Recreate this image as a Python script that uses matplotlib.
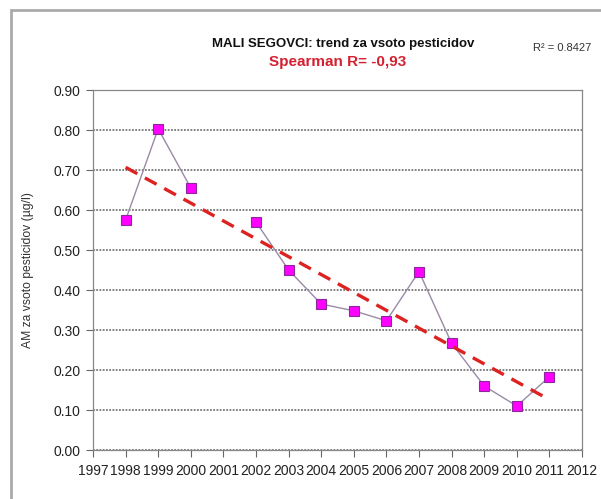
import numpy as np
import matplotlib
matplotlib.use("Agg")
import matplotlib.pyplot as plt
from matplotlib.patches import Rectangle

years = [1998, 1999, 2000, 2001, 2002, 2003, 2004, 2005, 2006, 2007, 2008, 2009, 2010, 2011]
values = [0.575, 0.803, 0.655, np.nan, 0.570, 0.450, 0.365, 0.348, 0.323, 0.446, 0.267, 0.160, 0.110, 0.183]
x_ticks = list(range(1997, 2013))
y_ticks = [0.0, 0.1, 0.2, 0.3, 0.4, 0.5, 0.6, 0.7, 0.8, 0.9]
title = "MALI SEGOVCI: trend za vsoto pesticidov"
subtitle = "Spearman R= -0,93"
r2_text = "R² = 0.8427"
ylabel = "AM za vsoto pesticidov (µg/l)"

plt.rcParams['font.family'] = ['Liberation Sans', 'DejaVu Sans']

fig = plt.figure(figsize=(6.01, 4.99), dpi=100)
W, H = 601, 499
ax = fig.add_axes([93 / W, 1 - 450 / H, (582 - 93) / W, (450 - 90) / H])

x = np.array(years, dtype=float)
y = np.array(values, dtype=float)
ax.plot(x, y, color='#9a8aa6', lw=1.0, zorder=3)
ax.plot(x, y, ls='none', marker='s', ms=7.5, mfc='#ff00ff', mec='#8a2a9a', mew=0.8, zorder=4)

m = ~np.isnan(y)
coef = np.polyfit(x[m], y[m], 1)
xt = np.array([years[0], years[-1]], dtype=float)
ax.plot(xt, np.polyval(coef, xt), color='#dd2222', lw=2.4, ls=(0, (4, 2.6)), zorder=5)

ax.set_xlim(1997, 2012)
ax.set_ylim(0, 0.9)
ax.set_xticks(x_ticks)
ax.set_xticklabels([str(v) for v in x_ticks], fontsize=10, color='#222222')
ax.set_yticks(y_ticks)
ax.set_yticklabels([f"{v:.2f}" for v in y_ticks], fontsize=10, color='#222222')
ax.tick_params(axis='x', direction='out', length=5, width=0.8, color='#666666', pad=5)
ax.tick_params(axis='y', direction='out', length=5, width=0.8, color='#666666', pad=4)
for s in ax.spines.values():
    s.set_color('#888888')
    s.set_linewidth(0.9)
ax.yaxis.grid(True, color='#777777', ls=(0, (1, 0.8)), lw=1.3)
ax.set_axisbelow(True)
ax.set_ylabel(ylabel, fontsize=8.7, color='#333333', labelpad=14)

fig.text(343 / W, 1 - 44 / H, title, ha='center', va='center', fontsize=9.5, fontweight='bold', color='#111111')
fig.text(338 / W, 1 - 62 / H, subtitle, ha='center', va='center', fontsize=11, fontweight='bold', color='#d42030')
fig.text(562 / W, 1 - 48 / H, r2_text, ha='center', va='center', fontsize=8, color='#333333')

fig.patches.append(Rectangle((11 / W, -0.1), 1.2, 1 - 10 / H + 0.1, transform=fig.transFigure,
                             fill=False, edgecolor='#aaaaaa', lw=2.0, zorder=0))

fig.savefig('out.png', dpi=100)
